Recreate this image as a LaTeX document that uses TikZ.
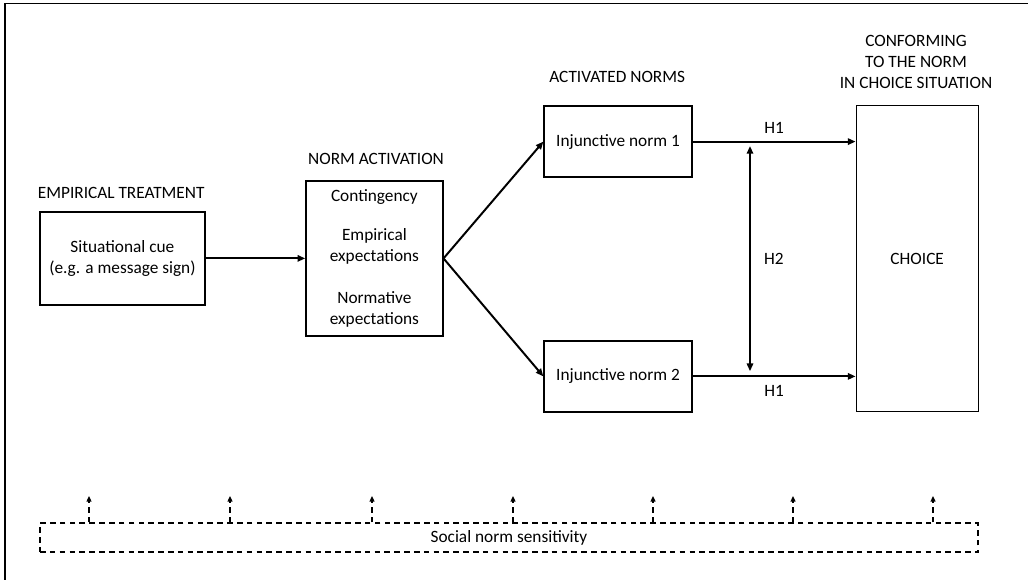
\documentclass[tikz,border=0pt]{standalone}
\usepackage{fontspec}
\setmainfont{Carlito}
\usepackage{tikz}
\usetikzlibrary{arrows.meta,positioning,calc}

\begin{document}
\begin{tikzpicture}[
    font=\fontsize{12.3}{15}\selectfont,
    box/.style={draw, line width=0.9pt, align=center, inner sep=2pt},
    head/.style={align=center},
    arr/.style={-{Triangle[length=5.5pt,width=4.5pt]}, line width=1.4pt},
    dbl/.style={{Triangle[length=5.5pt,width=4.5pt]}-{Triangle[length=5.5pt,width=4.5pt]}, line width=1.4pt},
    dasharr/.style={-{Triangle[length=4pt,width=3.5pt]}, line width=0.9pt, dash pattern=on 4pt off 3pt},
  ]
    \useasboundingbox (0,0) rectangle (25.7,14.5);
    % frame
    \draw[line width=1pt] (0.125,0) -- (0.125,14.41) -- (25.7,14.41);

    % boxes
    \node[box, minimum width=4.125cm, minimum height=2.325cm] (cue) at (3.06,8.04)
        {Situational cue\\(e.g. a message sign)};
    \node[box, minimum width=3.425cm, minimum height=3.875cm] (act) at (9.36,8.04)
        {Contingency\\[13pt]Empirical\\expectations\\[15pt]Normative\\expectations};
    \node[box, minimum width=3.7cm, minimum height=1.775cm] (inj1) at (15.45,10.96) {Injunctive norm 1};
    \node[box, minimum width=3.7cm, minimum height=1.775cm] (inj2) at (15.45,5.09)  {Injunctive norm 2};
    \node[box, minimum width=3.05cm, minimum height=7.65cm] (choice) at (22.93,8.03) {CHOICE};
    \node[box, dashed, dash pattern=on 4pt off 3pt, minimum width=23.45cm, minimum height=0.725cm]
        (sens) at (12.725,1.06) {Social norm sensitivity};

    % headings
    \node[head] (hcue) at (3.03,9.68)  {EMPIRICAL TREATMENT};
    \node[head] (hact) at (9.4,10.53)  {NORM ACTIVATION};
    \node[head] (hinj) at (15.43,12.58) {ACTIVATED NORMS};
    \node[head] (hch)  at (22.9,12.95)  {CONFORMING\\TO THE NORM\\IN CHOICE SITUATION};

    % arrows
    \draw[arr] (cue.east) -- (act.west);
    \draw[arr] (act.east) -- (inj1.west);
    \draw[arr] (act.east) -- (inj2.west);
    \draw[arr] (inj1.east) -- (inj1.east -| choice.west) node[midway, above=2pt] {H1};
    \draw[arr] (inj2.east) -- (inj2.east -| choice.west) node[midway, below=2pt] {H1};

    \coordinate (h2top) at (18.75,10.85);
    \coordinate (h2bot) at (18.75,5.22);
    \draw[dbl] (h2top) -- (h2bot) node[midway, right=6pt] {H2};

    % sensitivity arrows
    \foreach \x [count=\i] in {2.225,5.75,9.3,12.825,16.325,19.825,23.325}{
      \coordinate (s\i) at (\x,2.1);
      \draw[dasharr] (sens.north -| s\i) -- (s\i);
    }
\end{tikzpicture}
\end{document}
